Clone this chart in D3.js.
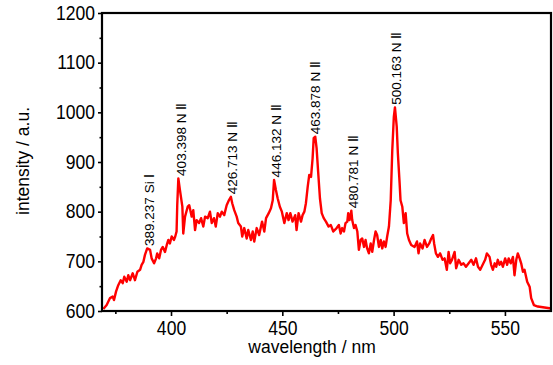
<!DOCTYPE html>
<html>
<head>
<meta charset="utf-8">
<script src="https://cdn.jsdelivr.net/npm/d3@7"></script>
<style>
  html, body { margin: 0; padding: 0; background: #ffffff; }
  svg { display: block; }
  .tick text { font-family: "Liberation Sans", Arial, sans-serif; fill: #000; }
</style>
</head>
<body>
<svg id="chart" width="553" height="365"></svg>
<script>
// Emission spectrum: wavelength (nm) and intensity (a.u.)
const wavelength = [
  369.6, 371.1, 372.6, 373.8, 374.4, 375.3, 376.3, 377.4, 378.3, 379.0,
  380.1, 380.8, 381.6, 382.8, 383.8, 384.9, 386.1, 386.8, 387.6, 388.3,
  389.3, 390.6, 391.3, 392.4, 393.3, 393.8, 394.7, 395.5, 396.3, 397.3,
  398.1, 398.8, 399.5, 400.3, 401.3, 401.9, 402.5, 402.8, 403.3, 404.0,
  405.1, 405.5, 406.3, 407.5, 408.2, 409.3, 410.0, 410.8, 411.5, 412.6,
  413.5, 414.5, 415.3, 416.5, 417.5, 418.3, 419.3, 420.1, 421.0, 422.0,
  422.8, 423.9, 425.0, 426.0, 426.9, 427.5, 428.4, 429.5, 430.2, 431.4,
  432.0, 432.9, 434.0, 434.7, 435.9, 436.7, 437.4, 438.5, 439.6, 440.9,
  441.9, 442.7, 443.9, 444.9, 445.7, 446.3, 447.1, 447.9, 448.9, 449.8,
  450.9, 452.0, 452.8, 453.6, 454.6, 455.8, 456.4, 457.3, 458.4, 459.1,
  459.9, 460.6, 461.4, 462.1, 462.9, 463.6, 464.1, 464.8, 465.4, 466.1,
  466.9, 467.7, 468.6, 469.6, 470.8, 471.8, 472.9, 474.4, 475.4, 476.2,
  476.9, 477.7, 478.4, 479.2, 479.6, 480.2, 481.0, 481.4, 482.2, 482.9,
  483.7, 484.4, 485.2, 485.9, 486.7, 487.4, 488.1, 488.9, 489.7, 490.4,
  491.2, 491.9, 492.6, 493.4, 494.2, 494.9, 495.6, 496.4, 497.1, 497.9,
  498.7, 499.4, 500.1, 500.6, 501.4, 501.9, 502.7, 503.1, 503.9, 504.6,
  505.4, 506.1, 506.9, 507.9, 509.4, 510.5, 511.2, 511.9, 513.0, 513.9,
  515.0, 516.0, 516.9, 517.7, 518.2, 519.0, 519.9, 520.9, 522.0, 522.9,
  523.9, 524.7, 525.4, 526.2, 527.4, 528.1, 529.2, 530.4, 531.4, 532.5,
  533.7, 534.9, 535.9, 537.0, 537.9, 538.9, 540.0, 541.1, 541.9, 543.1,
  543.8, 544.6, 545.4, 546.1, 546.8, 547.6, 548.3, 549.1, 550.1, 551.0,
  551.7, 552.6, 553.6, 554.3, 555.1, 555.8, 556.6, 557.3, 558.1, 558.8,
  560.0, 561.1, 561.8, 563.0, 564.8, 567.8, 570.8
];
const intensity = [
  604, 612, 626, 629, 622, 639, 652, 662, 656, 669,
  659, 672, 662, 676, 662, 679, 683, 693, 699, 713,
  726, 723, 706, 696, 706, 716, 706, 723, 729, 719,
  733, 743, 736, 750, 743, 750, 760, 813, 867, 844,
  810, 756, 790, 810, 813, 790, 803, 763, 783, 777,
  787, 770, 790, 787, 800, 777, 787, 770, 797, 790,
  800, 793, 813, 823, 830, 817, 803, 790, 777, 770,
  750, 767, 746, 763, 743, 760, 740, 767, 753, 780,
  760, 787, 797, 807, 823, 864, 844, 827, 810, 800,
  777, 797, 783, 797, 780, 793, 763, 797, 780, 793,
  800, 817, 850, 874, 870, 907, 948, 951, 928, 880,
  827, 797, 787, 780, 770, 773, 760, 767, 773, 756,
  767, 760, 777, 780, 797, 783, 802, 783, 767, 773,
  760, 723, 743, 746, 729, 743, 726, 716, 736, 719,
  743, 760, 753, 729, 743, 726, 740, 729, 750, 770,
  823, 924, 991, 1010, 971, 918, 857, 823, 810, 777,
  797, 756, 743, 733, 729, 740, 716, 736, 726, 743,
  729, 736, 746, 753, 736, 716, 709, 716, 703, 706,
  683, 719, 696, 703, 719, 686, 703, 693, 696, 689,
  696, 703, 693, 706, 689, 683, 693, 703, 716, 709,
  693, 683, 696, 689, 703, 693, 699, 689, 706, 693,
  706, 696, 709, 672, 703, 716, 706, 696, 679, 683,
  659, 649, 626, 612, 609, 607, 605
];

// Identified emission lines
const lineWavelengths = [389.237, 403.398, 426.713, 446.132, 463.878, 480.781, 500.163];
const lineLabels = [
  "389.237 Si \u2160", "403.398 N \u2161", "426.713 N \u2161", "446.132 N \u2161",
  "463.878 N \u2161", "480.781 N \u2161", "500.163 N \u2161"
];

// Axis ticks
const xTicks = [400, 450, 500, 550];
const xMinorTicks = [375, 425, 475, 525];
const yTicks = [600, 700, 800, 900, 1000, 1100, 1200];
const yMinorTicks = [650, 750, 850, 950, 1050, 1150];

const svg = d3.select("#chart");
const margin = { left: 102, right: 2, top: 13, bottom: 54 };
const W = 553, H = 365;
const plotW = W - margin.left - margin.right;
const plotH = H - margin.top - margin.bottom;

const x = d3.scaleLinear().domain([369, 570.7]).range([margin.left, margin.left + plotW]);
const y = d3.scaleLinear().domain([600, 1200]).range([margin.top + plotH, margin.top]);

const tickFont = "Liberation Sans, Arial, sans-serif";
const narrow = 0.9;   // horizontal squeeze for the tick numerals

// spectrum trace
const pts = wavelength.map((w, i) => [w, intensity[i]]);
const line = d3.line().x(d => x(d[0])).y(d => y(d[1]));
svg.append("path")
  .datum(pts)
  .attr("fill", "none")
  .attr("stroke", "#ff0000")
  .attr("stroke-width", 2.4)
  .attr("stroke-linejoin", "round")
  .attr("d", line);

// frame
svg.append("rect")
  .attr("x", margin.left).attr("y", margin.top)
  .attr("width", plotW).attr("height", plotH)
  .attr("fill", "none").attr("stroke", "#000").attr("stroke-width", 2.2);

// bottom axis
const gx = svg.append("g").attr("transform", `translate(0,${margin.top + plotH})`)
  .call(d3.axisBottom(x).tickValues(xTicks).tickFormat(d3.format("d")).tickSize(5).tickPadding(5));
gx.select(".domain").remove();
gx.selectAll(".tick line").attr("stroke-width", 1.6);
gx.selectAll(".tick text")
  .attr("font-size", 19.5).attr("font-family", tickFont)
  .attr("transform", `scale(${narrow},1)`);
const gxm = svg.append("g").attr("transform", `translate(0,${margin.top + plotH})`)
  .call(d3.axisBottom(x).tickValues(xMinorTicks).tickSize(3).tickFormat(""));
gxm.select(".domain").remove();
gxm.selectAll(".tick line").attr("stroke-width", 1.6);

// left axis
const gy = svg.append("g").attr("transform", `translate(${margin.left},0)`)
  .call(d3.axisLeft(y).tickValues(yTicks).tickFormat(d3.format("d")).tickSize(4).tickPadding(3));
gy.select(".domain").remove();
gy.selectAll(".tick line").attr("stroke-width", 1.6);
gy.selectAll(".tick text")
  .attr("font-size", 19.5).attr("font-family", tickFont)
  .attr("x", -7 / narrow)
  .attr("transform", `scale(${narrow},1)`);
const gym = svg.append("g").attr("transform", `translate(${margin.left},0)`)
  .call(d3.axisLeft(y).tickValues(yMinorTicks).tickSize(2.5).tickFormat(""));
gym.select(".domain").remove();
gym.selectAll(".tick line").attr("stroke-width", 1.6);

// axis titles
svg.append("text")
  .attr("x", 312).attr("y", 353)
  .attr("text-anchor", "middle")
  .attr("font-family", tickFont).attr("font-size", 17.5)
  .text("wavelength / nm");
svg.append("text")
  .attr("transform", `translate(29,${margin.top + plotH / 2 - 1}) rotate(-90)`)
  .attr("text-anchor", "middle")
  .attr("font-family", tickFont).attr("font-size", 17.5)
  .text("intensity / a.u.");

// line labels, placed just above the local maximum of the trace
lineWavelengths.forEach((lw, i) => {
  const near = pts.filter(p => Math.abs(p[0] - lw) <= 1.5);
  const peak = d3.max(near, p => p[1]);
  svg.append("text")
    .attr("transform", `translate(${x(lw) + 7},${y(peak) - 2.5}) rotate(-90)`)
    .attr("font-family", tickFont).attr("font-size", 13.5)
    .attr("fill", "#000")
    .text(lineLabels[i]);
});
</script>
</body>
</html>
